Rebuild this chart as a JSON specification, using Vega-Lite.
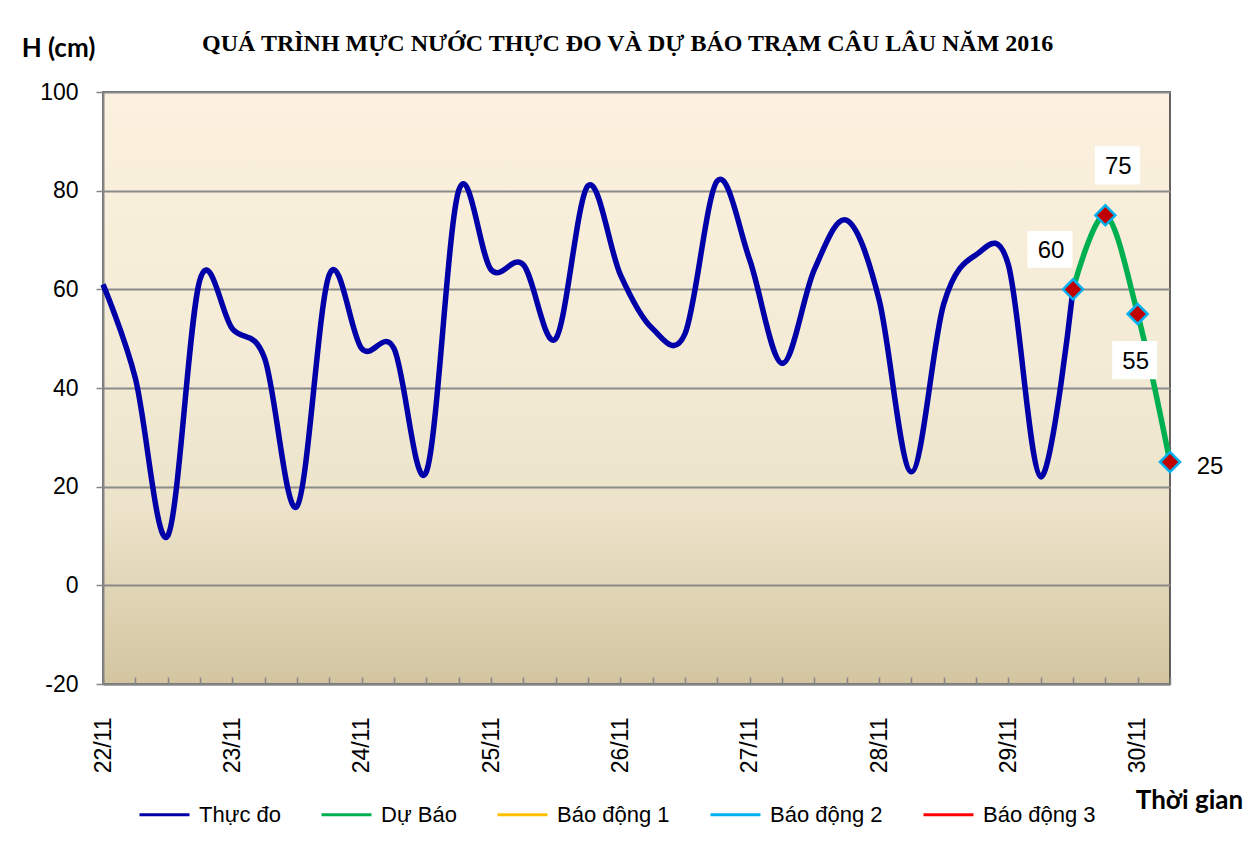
{
  "$schema": "https://vega.github.io/schema/vega-lite/v6.json",
  "width": 1067,
  "height": 592,
  "autosize": "none",
  "padding": {"left": 103, "top": 92, "right": 89, "bottom": 171},
  "background": "white",
  "title": {
    "text": "QUÁ TRÌNH MỰC NƯỚC THỰC ĐO VÀ DỰ BÁO TRẠM CÂU LÂU NĂM 2016",
    "anchor": "start",
    "frame": "group",
    "dx": 99,
    "offset": -21,
    "font": "Liberation Serif",
    "fontSize": 24,
    "fontWeight": "bold",
    "color": "black"
  },
  "data": {
    "values": [
      {"t": "22/11 01h", "series": "Thực đo", "h": 61},
      {"t": "22/11 07h", "series": "Thực đo", "h": 42},
      {"t": "22/11 13h", "series": "Thực đo", "h": 10},
      {"t": "22/11 19h", "series": "Thực đo", "h": 62},
      {"t": "23/11 01h", "series": "Thực đo", "h": 52},
      {"t": "23/11 07h", "series": "Thực đo", "h": 46},
      {"t": "23/11 13h", "series": "Thực đo", "h": 16},
      {"t": "23/11 19h", "series": "Thực đo", "h": 63},
      {"t": "24/11 01h", "series": "Thực đo", "h": 48},
      {"t": "24/11 07h", "series": "Thực đo", "h": 48},
      {"t": "24/11 13h", "series": "Thực đo", "h": 23},
      {"t": "24/11 19h", "series": "Thực đo", "h": 80},
      {"t": "25/11 01h", "series": "Thực đo", "h": 64},
      {"t": "25/11 07h", "series": "Thực đo", "h": 65},
      {"t": "25/11 13h", "series": "Thực đo", "h": 50},
      {"t": "25/11 19h", "series": "Thực đo", "h": 81},
      {"t": "26/11 01h", "series": "Thực đo", "h": 63},
      {"t": "26/11 07h", "series": "Thực đo", "h": 52},
      {"t": "26/11 13h", "series": "Thực đo", "h": 51},
      {"t": "26/11 19h", "series": "Thực đo", "h": 82},
      {"t": "27/11 01h", "series": "Thực đo", "h": 66},
      {"t": "27/11 07h", "series": "Thực đo", "h": 45},
      {"t": "27/11 13h", "series": "Thực đo", "h": 64},
      {"t": "27/11 19h", "series": "Thực đo", "h": 74},
      {"t": "28/11 01h", "series": "Thực đo", "h": 58},
      {"t": "28/11 07h", "series": "Thực đo", "h": 23},
      {"t": "28/11 13h", "series": "Thực đo", "h": 57},
      {"t": "28/11 19h", "series": "Thực đo", "h": 67},
      {"t": "29/11 01h", "series": "Thực đo", "h": 65},
      {"t": "29/11 07h", "series": "Thực đo", "h": 22},
      {"t": "29/11 13h", "series": "Thực đo", "h": 60},
      {"t": "29/11 13h", "series": "Dự Báo", "h": 60},
      {"t": "29/11 19h", "series": "Dự Báo", "h": 75},
      {"t": "30/11 01h", "series": "Dự Báo", "h": 55},
      {"t": "30/11 07h", "series": "Dự Báo", "h": 25}
    ]
  },
  "encoding": {
    "x": {
      "field": "t",
      "type": "ordinal",
      "scale": {"type": "point", "padding": 0},
      "axis": {
        "title": "Thời gian",
        "titleFont": "Lato",
        "titleFontSize": 26,
        "titleFontWeight": "bold",
        "titleColor": "black",
        "titleX": 1086,
        "titleY": 116,
        "titleAlign": "center",
        "titleBaseline": "middle",
        "labelAngle": 270,
        "labelFont": "Liberation Sans",
        "labelFontSize": 23,
        "labelColor": "black",
        "labelPadding": 40,
        "labelOverlap": false,
        "labelExpr": "slice(datum.value, 6) === '01h' ? slice(datum.value, 0, 5) : ''",
        "tickSize": -7,
        "tickColor": "#868686",
        "tickWidth": 1.5,
        "domainColor": "#868686",
        "domainWidth": 2,
        "grid": false
      }
    },
    "y": {
      "field": "h",
      "type": "quantitative",
      "scale": {"domain": [-20, 100], "nice": false, "zero": false},
      "axis": {
        "title": "H (cm)",
        "titleFont": "Lato",
        "titleFontSize": 26,
        "titleFontWeight": "bold",
        "titleColor": "black",
        "titleAngle": 0,
        "titleX": -45,
        "titleY": -44,
        "titleAlign": "center",
        "titleBaseline": "middle",
        "values": [-20, 0, 20, 40, 60, 80, 100],
        "labelExpr": "'' + datum.value",
        "labelFont": "Liberation Sans",
        "labelFontSize": 23,
        "labelColor": "black",
        "labelPadding": 18,
        "tickSize": 7,
        "tickColor": "#868686",
        "tickWidth": 1.5,
        "domainColor": "#868686",
        "domainWidth": 2,
        "grid": true,
        "gridColor": "#8a8a8a",
        "gridWidth": 1.8
      }
    }
  },
  "layer": [
    {
      "transform": [{"filter": "datum.series === 'Thực đo'"}],
      "mark": {"type": "line", "interpolate": "cardinal", "strokeWidth": 5.5},
      "encoding": {
        "color": {
          "field": "series",
          "type": "nominal",
          "scale": {
            "domain": ["Thực đo", "Dự Báo", "Báo động 1", "Báo động 2", "Báo động 3"],
            "range": ["#0000A8", "#00B050", "#FFC000", "#00B0F0", "#FF0000"]
          },
          "legend": {
            "title": null,
            "orient": "none",
            "legendX": 35,
            "legendY": 696,
            "direction": "horizontal",
            "symbolType": "stroke",
            "symbolSize": 2500,
            "symbolStrokeWidth": 3,
            "labelFont": "Liberation Sans",
            "labelFontSize": 22,
            "labelColor": "black",
            "labelOffset": 8,
            "columnPadding": 34,
            "padding": 0
          }
        }
      }
    },
    {
      "transform": [{"filter": "datum.series === 'Dự Báo'"}],
      "mark": {"type": "line", "interpolate": "cardinal", "strokeWidth": 5.5},
      "encoding": {"color": {"field": "series", "type": "nominal"}}
    },
    {
      "transform": [{"filter": "datum.series === 'Dự Báo' && datum.h === 60"}],
      "mark": {"type": "point", "shape": "M-1,-0.82H1V0.82H-1Z", "size": 2025, "filled": true, "color": "white", "opacity": 1, "strokeWidth": 0, "xOffset": -23, "yOffset": -40}
    },
    {
      "transform": [{"filter": "datum.series === 'Dự Báo' && datum.h === 75"}],
      "mark": {"type": "point", "shape": "M-1,-0.85H1V0.85H-1Z", "size": 2025, "filled": true, "color": "white", "opacity": 1, "strokeWidth": 0, "xOffset": 12, "yOffset": -50}
    },
    {
      "transform": [{"filter": "datum.series === 'Dự Báo' && datum.h === 55"}],
      "mark": {"type": "point", "shape": "M-1,-0.85H1V0.85H-1Z", "size": 2025, "filled": true, "color": "white", "opacity": 1, "strokeWidth": 0, "xOffset": -3, "yOffset": 46}
    },
    {
      "transform": [{"filter": "datum.series === 'Dự Báo'"}],
      "mark": {"type": "point", "shape": "diamond", "size": 400, "filled": true, "fill": "#C00000", "stroke": "#00B0F0", "strokeWidth": 2.5, "opacity": 1}
    },
    {
      "transform": [{"filter": "datum.series === 'Dự Báo' && datum.h === 60"}],
      "mark": {"type": "text", "font": "Liberation Sans", "fontSize": 24, "color": "black", "align": "center", "baseline": "middle", "dx": -22, "dy": -38},
      "encoding": {"text": {"field": "h", "type": "quantitative"}}
    },
    {
      "transform": [{"filter": "datum.series === 'Dự Báo' && datum.h === 75"}],
      "mark": {"type": "text", "font": "Liberation Sans", "fontSize": 24, "color": "black", "align": "center", "baseline": "middle", "dx": 13, "dy": -48},
      "encoding": {"text": {"field": "h", "type": "quantitative"}}
    },
    {
      "transform": [{"filter": "datum.series === 'Dự Báo' && datum.h === 55"}],
      "mark": {"type": "text", "font": "Liberation Sans", "fontSize": 24, "color": "black", "align": "center", "baseline": "middle", "dx": -2, "dy": 48},
      "encoding": {"text": {"field": "h", "type": "quantitative"}}
    },
    {
      "transform": [{"filter": "datum.series === 'Dự Báo' && datum.h === 25"}],
      "mark": {"type": "text", "font": "Liberation Sans", "fontSize": 24, "color": "black", "align": "center", "baseline": "middle", "dx": 40, "dy": 5},
      "encoding": {"text": {"field": "h", "type": "quantitative"}}
    }
  ],
  "config": {
    "view": {
      "stroke": "#333333",
      "strokeWidth": 1.5,
      "fill": {
        "gradient": "linear",
        "x1": 0, "y1": 0, "x2": 0, "y2": 1,
        "stops": [
          {"offset": 0, "color": "#FBF1DE"},
          {"offset": 0.45, "color": "#F4EBD6"},
          {"offset": 0.7, "color": "#ECE3CA"},
          {"offset": 1, "color": "#D3C5A0"}
        ]
      }
    }
  }
}
